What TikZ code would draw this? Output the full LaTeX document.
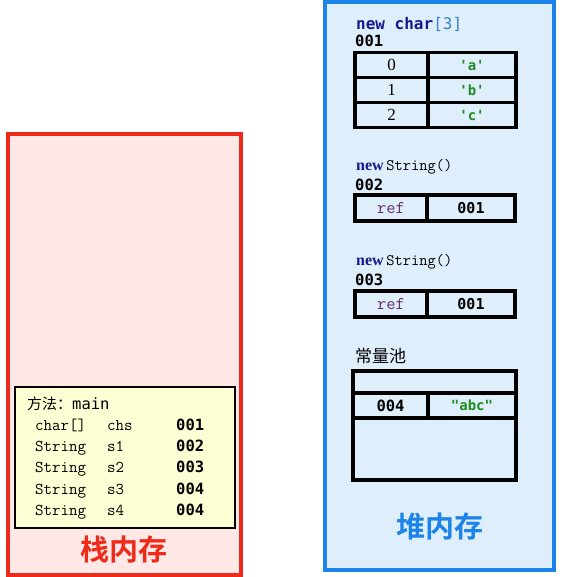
\documentclass[tikz,border=0pt]{standalone}
\usepackage{fontspec}
\setmainfont{Liberation Serif}
\newfontfamily\bfmono{DejaVu Sans Mono}
\newfontfamily\cjk{Noto Sans CJK SC}
\newfontfamily\cjkbold{Noto Sans CJK SC Bold}
\definecolor{stackred}{HTML}{EE2A1A}
\definecolor{stackfill}{HTML}{FFE8E5}
\definecolor{heapblue}{HTML}{1C84E8}
\definecolor{heapfill}{HTML}{DFEEFB}
\definecolor{framefill}{HTML}{FFFFD6}
\definecolor{strgreen}{HTML}{1E8C1E}
\definecolor{refpurple}{HTML}{6B2C6B}
\definecolor{keynavy}{HTML}{1A1A8C}
\begin{document}
\begin{tikzpicture}[
    x=1pt, y=-1pt,
    memory/.style={rectangle, draw, line width=3.5pt, inner sep=0pt, outer sep=0pt, anchor=north west},
    cell/.style={rectangle, draw, line width=3.2pt, inner sep=0pt, outer sep=0pt, minimum height=25pt},
    title/.style={font=\cjkbold\fontsize{29}{29}\selectfont},
    addr/.style={anchor=base west, inner sep=0pt, font=\bfmono\bfseries\fontsize{15.5}{15.5}\selectfont},
    label/.style={anchor=base west, inner sep=0pt, font=\ttfamily\fontsize{16}{16}\selectfont},
    var/.style={anchor=base west, inner sep=0pt, font=\ttfamily\fontsize{16.5}{16.5}\selectfont},
    chr/.style={font=\bfmono\bfseries\fontsize{14}{14}\selectfont, text=strgreen}
]
    \useasboundingbox[fill=white] (0,0) rectangle (563,577);

    % Memories
    \node[memory, draw=stackred, fill=stackfill, minimum width=233pt, minimum height=441pt] (stack) at (8,134) {};
    \node[memory, draw=heapblue, fill=heapfill, minimum width=229pt, minimum height=568pt] (heap) at (325,2) {};
    \node[title, text=stackred] (stacktitle) at (124,550) {栈内存};
    \node[title, text=heapblue] (heaptitle) at (440,527) {堆内存};

    % Stack frame
    \node[rectangle, draw, line width=1.5pt, fill=framefill, minimum width=220pt, minimum height=141pt, anchor=north west, inner sep=0pt] (frame) at (14,386) {};
    \node[anchor=base west, inner sep=0pt, font=\cjk\fontsize{15}{15}\selectfont] (method) at (27,409) {方法：{\bfmono\fontsize{15.5}{15.5}\selectfont main}};
    \node[var] (t1) at (35,430) {char[]};
    \node[var] (n1) at (107,430) {chs};
    \node[addr] (v1) at (176,430) {001};
    \node[var] (t2) at (35,451) {String};
    \node[var] (n2) at (107,451) {s1};
    \node[addr] (v2) at (176,451) {002};
    \node[var] (t3) at (35,472) {String};
    \node[var] (n3) at (107,472) {s2};
    \node[addr] (v3) at (176,472) {003};
    \node[var] (t4) at (35,494) {String};
    \node[var] (n4) at (107,494) {s3};
    \node[addr] (v4) at (176,494) {004};
    \node[var] (t5) at (35,515) {String};
    \node[var] (n5) at (107,515) {s4};
    \node[addr] (v5) at (176,515) {004};

    % Array object
    \node[addr, font=\bfmono\bfseries\fontsize{16}{16}\selectfont] (arrnew) at (356,30) {\textcolor{keynavy}{new char}\mdseries\textcolor{heapblue!70!gray}{[3]}};
    \node[addr] (arraddr) at (355,47) {001};
    \node[cell, minimum width=73pt, font=\fontsize{17}{17}\selectfont] (i0) at (391.5,65) {0};
    \node[cell, minimum width=88pt, chr] (c0) at (472,65) {'a'};
    \node[cell, minimum width=73pt, font=\fontsize{17}{17}\selectfont] (i1) at (391.5,90) {1};
    \node[cell, minimum width=88pt, chr] (c1) at (472,90) {'b'};
    \node[cell, minimum width=73pt, font=\fontsize{17}{17}\selectfont] (i2) at (391.5,115) {2};
    \node[cell, minimum width=88pt, chr] (c2) at (472,115) {'c'};

    % String objects
    \node[label] (strnew1) at (356,171) {\textcolor{keynavy}{\rmfamily\bfseries new}\,String()};
    \node[addr] (straddr1) at (355,190) {002};
    \node[cell, minimum width=72pt, minimum height=26pt] (ref1) at (391,208) {\ttfamily\fontsize{18}{18}\selectfont\textcolor{refpurple}{ref}};
    \node[cell, minimum width=88pt, minimum height=26pt, font=\bfmono\bfseries\fontsize{15}{15}\selectfont] (val1) at (471,208) {001};
    \node[label] (strnew2) at (356,265) {\textcolor{keynavy}{\rmfamily\bfseries new}\,String()};
    \node[addr] (straddr2) at (355,285) {003};
    \node[cell, minimum width=72pt, minimum height=26pt] (ref2) at (391,304) {\ttfamily\fontsize{18}{18}\selectfont\textcolor{refpurple}{ref}};
    \node[cell, minimum width=88pt, minimum height=26pt, font=\bfmono\bfseries\fontsize{15}{15}\selectfont] (val2) at (471,304) {001};

    % Constant pool
    \node[anchor=base west, inner sep=0pt, font=\cjk\fontsize{17}{17}\selectfont] (pool) at (355,362) {常量池};
    \node[cell, minimum width=163pt, minimum height=109pt, anchor=north west] (poolbox) at (353,371) {};
    \node[cell, minimum width=163pt, minimum height=22pt, anchor=north west] (pooltop) at (353,371) {};
    \node[cell, minimum width=75pt, anchor=north west, font=\bfmono\bfseries\fontsize{15.5}{15.5}\selectfont] (pooladdr) at (353,393) {004};
    \node[cell, minimum width=88pt, anchor=north west, chr] (poolval) at (428,393) {"abc"};

\end{tikzpicture}
\end{document}
